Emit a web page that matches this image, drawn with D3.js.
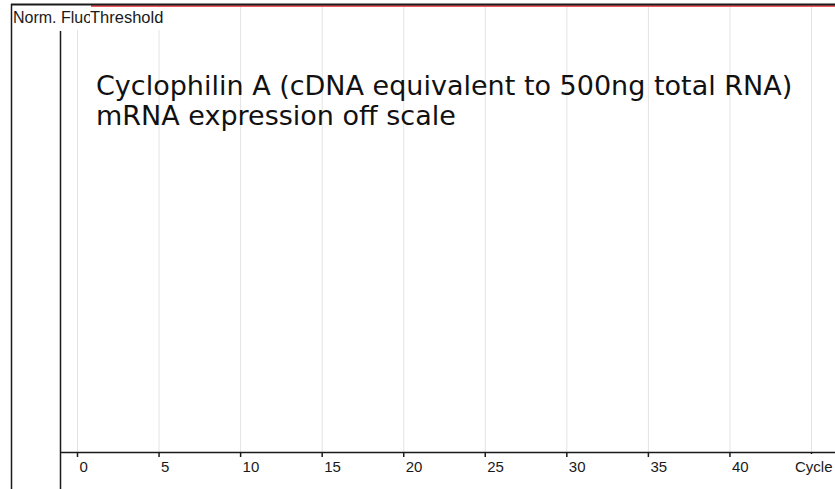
<!DOCTYPE html>
<html>
<head>
<meta charset="utf-8">
<script src="https://cdn.jsdelivr.net/npm/d3@7"></script>
<style>
  html, body { margin: 0; padding: 0; background: #fff; }
  svg { display: block; }
</style>
</head>
<body>
<svg id="chart"></svg>
<script>
// Data
var cycleTicks = [0, 5, 10, 15, 20, 25, 30, 35, 40];
var gridCycles = [0, 5, 10, 15, 20, 25, 30, 35, 40, 45];
var cycleDomain = [0, 45];
var fluDomain = [0, 1];
var thresholdValue = 1;
var xTitle = "Cycle";
var yTitle = "Norm. Fluo.";
var thresholdLabel = "Threshold";
var noteLines = [
  "Cyclophilin A (cDNA equivalent to 500ng total RNA)",
  "mRNA expression off scale"
];

var width = 835,
  height = 489,
  frameLeft = 11,
  frameTop = 4,
  axisX = 60,
  axisY = 452,
  inkColor = "#1a1a1a",
  labelFont = "'Liberation Sans', Arial, sans-serif",
  noteFont = "'DejaVu Sans', Verdana, sans-serif";

var svg = d3.select("#chart").attr("width", width).attr("height", height);

var xScale = d3.scaleLinear().domain(cycleDomain).range([77, 811]);
var yScale = d3.scaleLinear().domain(fluDomain).range([axisY, 6]);

// grid lines every 5 cycles
svg
  .selectAll(".grid")
  .data(gridCycles)
  .enter()
  .append("line")
  .attr("x1", d => xScale(d) + 0.5)
  .attr("x2", d => xScale(d) + 0.5)
  .attr("y1", frameTop + 3)
  .attr("y2", axisY)
  .attr("stroke", "#e3e3e3")
  .attr("stroke-width", 1);

// threshold line
svg
  .append("line")
  .attr("x1", xScale.range()[0])
  .attr("x2", width)
  .attr("y1", yScale(thresholdValue))
  .attr("y2", yScale(thresholdValue))
  .attr("stroke", "#e8202a")
  .attr("stroke-width", 1.5);

// label backgrounds (the labels hide the grid and the threshold start)
svg
  .append("rect")
  .attr("x", frameLeft + 1)
  .attr("y", frameTop + 1)
  .attr("width", 91 - frameLeft - 1)
  .attr("height", 25)
  .attr("fill", "#fff");

svg
  .append("rect")
  .attr("x", 91)
  .attr("y", 7.5)
  .attr("width", 78)
  .attr("height", 22.5)
  .attr("fill", "#fff");

// frame
svg
  .append("line")
  .attr("x1", frameLeft)
  .attr("x2", width)
  .attr("y1", frameTop + 0.5)
  .attr("y2", frameTop + 0.5)
  .attr("stroke", inkColor)
  .attr("stroke-width", 2);

svg
  .append("line")
  .attr("x1", frameLeft + 0.5)
  .attr("x2", frameLeft + 0.5)
  .attr("y1", frameTop)
  .attr("y2", height)
  .attr("stroke", inkColor)
  .attr("stroke-width", 1.5);

// y axis (no ticks)
svg
  .append("line")
  .attr("x1", axisX + 0.5)
  .attr("x2", axisX + 0.5)
  .attr("y1", 31)
  .attr("y2", height)
  .attr("stroke", inkColor)
  .attr("stroke-width", 1.5);

// x axis
var xAxis = d3.axisBottom(xScale).tickValues(cycleTicks).tickSize(5).tickFormat(d3.format("d"));

var gx = svg
  .append("g")
  .attr("transform", "translate(0," + axisY + ")")
  .call(xAxis);

gx.select(".domain").remove();
gx.selectAll(".tick line").attr("stroke", inkColor).attr("stroke-width", 1.5);
gx.selectAll(".tick text")
  .attr("x", 2)
  .attr("y", 20)
  .attr("dy", null)
  .attr("text-anchor", "start")
  .attr("fill", inkColor)
  .style("font-family", labelFont)
  .style("font-size", "15px");

svg
  .append("line")
  .attr("x1", axisX)
  .attr("x2", width)
  .attr("y1", axisY + 0.5)
  .attr("y2", axisY + 0.5)
  .attr("stroke", inkColor)
  .attr("stroke-width", 1.5);

// small tick at 45 with axis name
svg
  .append("line")
  .attr("x1", xScale(45) + 0.5)
  .attr("x2", xScale(45) + 0.5)
  .attr("y1", axisY)
  .attr("y2", axisY + 2)
  .attr("stroke", inkColor)
  .attr("stroke-width", 1.5);

svg
  .append("text")
  .attr("x", 795)
  .attr("y", 472)
  .attr("fill", inkColor)
  .style("font-family", labelFont)
  .style("font-size", "15px")
  .text(xTitle);

// y axis title, partly hidden by the threshold label
svg
  .append("text")
  .attr("x", 13)
  .attr("y", 23)
  .attr("fill", inkColor)
  .style("font-family", labelFont)
  .style("font-size", "16px")
  .text(yTitle);

svg
  .append("rect")
  .attr("x", 90)
  .attr("y", 8)
  .attr("width", 79)
  .attr("height", 20)
  .attr("fill", "#fff");

svg
  .append("text")
  .attr("x", 90)
  .attr("y", 23)
  .attr("fill", inkColor)
  .style("font-family", labelFont)
  .style("font-size", "16.5px")
  .text(thresholdLabel);

// annotation
var note = svg
  .append("text")
  .attr("x", 96)
  .attr("y", 95)
  .attr("fill", "#111")
  .style("font-family", noteFont)
  .style("font-size", "27px");

note
  .selectAll("tspan")
  .data(noteLines)
  .enter()
  .append("tspan")
  .attr("x", 96)
  .attr("dy", (d, i) => (i === 0 ? 0 : 30))
  .text(d => d);
</script>
</body>
</html>
